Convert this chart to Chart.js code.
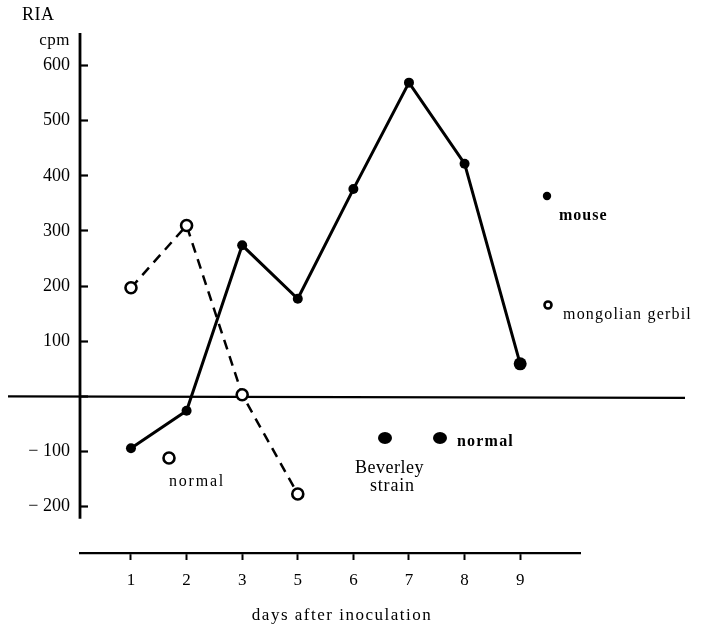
<!DOCTYPE html>
<html>
<head>
<meta charset="utf-8">
<script src="https://cdn.jsdelivr.net/npm/chart.js@4"></script>
<style>
  html, body { margin: 0; padding: 0; background: #fff; }
  #wrap { width: 701px; height: 629px; }
</style>
</head>
<body>
<div id="wrap"><canvas id="riaChart" width="701" height="629"></canvas></div>
<script>
/* Values */
const dayLabels = ['1', '2', '3', '5', '6', '7', '8', '9'];
const mouseCpm = [-94, -26, 274, 177, 376, 569, 422, 59];
const gerbilCpm = [197, 310, 3, -177];
const yTicks = [-200, -100, 0, 100, 200, 300, 400, 500, 600];

const INK = '#000';
const SERIF = '"Liberation Serif", "DejaVu Serif", serif';
Chart.defaults.font.family = SERIF;
Chart.defaults.color = INK;

const toPoints = function(vals) {
    return vals.map((v, i) => ({x: i, y: v}));
}

// text + markers that sit on the plot (labels, key, axis captions)
const extras = {
    id: 'extras',
    beforeDatasetsDraw(chart) {
        const c = chart.ctx;
        const y = chart.scales.y;
        const left = chart.chartArea.left;
        c.save();
        c.strokeStyle = INK;
        // y axis line, stops short of the x axis
        c.lineWidth = 2.8;
        c.beginPath();
        c.moveTo(left, y.getPixelForValue(659));
        c.lineTo(left, y.getPixelForValue(-222));
        c.stroke();
        // zero line across the whole figure
        c.lineWidth = 2.4;
        const y0 = y.getPixelForValue(0);
        c.beginPath();
        c.moveTo(8, y0);
        c.lineTo(685, y0 + 1.5);
        c.stroke();
        c.restore();
    },
    afterDraw(chart) {
        const c = chart.ctx;
        c.save();
        c.fillStyle = INK;
        c.strokeStyle = INK;
        c.textBaseline = 'alphabetic';

        const txt = function(s, x, y, size, align, bold, spacing) {
            c.font = (bold ? 'bold ' : '') + size + 'px ' + SERIF;
            c.textAlign = align || 'left';
            c.letterSpacing = (spacing || 0) + 'px';
            c.fillText(s, x, y);
        }
        const dot = function(x, y, rx, ry) {
            c.beginPath();
            c.ellipse(x, y, rx, ry, 0, 0, Math.PI * 2);
            c.fill();
        }
        const ring = function(x, y, r) {
            c.lineWidth = 2.6;
            c.beginPath();
            c.arc(x, y, r, 0, Math.PI * 2);
            c.fillStyle = '#fff';
            c.fill();
            c.stroke();
            c.fillStyle = INK;
        }

        txt('RIA', 22, 20, 18, 'left', false, 0.5);
        txt('cpm', 70, 45, 17, 'right', false, 0.5);

        dot(547, 196, 4.2, 4.2);
        txt('mouse', 559, 220, 16, 'left', true, 1);
        ring(548, 305, 3.5);
        txt('mongolian gerbil', 563, 319, 16, 'left', false, 1.2);

        ring(169, 458, 5.5);
        txt('normal', 169, 486, 16, 'left', false, 1.8);

        dot(385, 438, 7, 6);
        dot(440, 438, 7, 6);
        txt('normal', 457, 446, 16, 'left', true, 1.2);
        txt('Beverley', 355, 473, 18, 'left', false, 0.5);
        txt('strain', 370, 491, 18, 'left', false, 0.8);

        txt('days after inoculation', 342, 620, 17, 'center', false, 1.5);
        c.restore();
    }
};

new Chart(document.getElementById('riaChart'), {
    type: 'line',
    data: {
        datasets: [{
            label: 'mouse',
            data: toPoints(mouseCpm),
            borderColor: INK,
            borderWidth: 3,
            pointRadius: (ctx) => ctx.dataIndex === mouseCpm.length - 1 ? 6.5 : 5,
            pointBackgroundColor: INK,
            pointBorderWidth: 0,
            tension: 0
        }, {
            label: 'mongolian gerbil',
            data: toPoints(gerbilCpm),
            borderColor: INK,
            borderWidth: 2.5,
            borderDash: [10, 7],
            pointRadius: 5.5,
            pointBorderWidth: 2.6,
            pointBorderColor: INK,
            pointBackgroundColor: '#fff',
            tension: 0
        }]
    },
    options: {
        responsive: false,
        animation: false,
        layout: { padding: { left: 0, top: 33, right: 121, bottom: 0 } },
        scales: {
            x: {
                type: 'linear',
                min: -0.917,
                max: 8.076,
                afterBuildTicks: (s) => { s.ticks = dayLabels.map((_, i) => ({value: i})); },
                afterFit: (s) => { s.height = 76; },
                border: { display: true, color: INK, width: 2.2 },
                grid: { drawOnChartArea: false, drawTicks: true, tickLength: 7, tickWidth: 2, color: INK },
                ticks: {
                    color: INK,
                    font: { size: 17 },
                    padding: 10,
                    maxRotation: 0,
                    callback: (v) => dayLabels[v] ?? ''
                }
            },
            y: {
                type: 'linear',
                min: -284,
                max: 659,
                afterBuildTicks: (s) => { s.ticks = yTicks.map(v => ({value: v})); },
                afterFit: (s) => { s.width = 80; },
                border: { display: false },
                grid: { drawOnChartArea: false, drawTicks: true, tickLength: -8, tickWidth: 2.2, color: INK },
                ticks: {
                    color: INK,
                    font: { size: 18 },
                    padding: 18,
                    callback: (v) => v === 0 ? '' : (v < 0 ? '\u2212 ' + (-v) : String(v))
                }
            }
        },
        plugins: {
            legend: { display: false },
            tooltip: { enabled: false }
        }
    },
    plugins: [extras]
});
</script>
</body>
</html>
